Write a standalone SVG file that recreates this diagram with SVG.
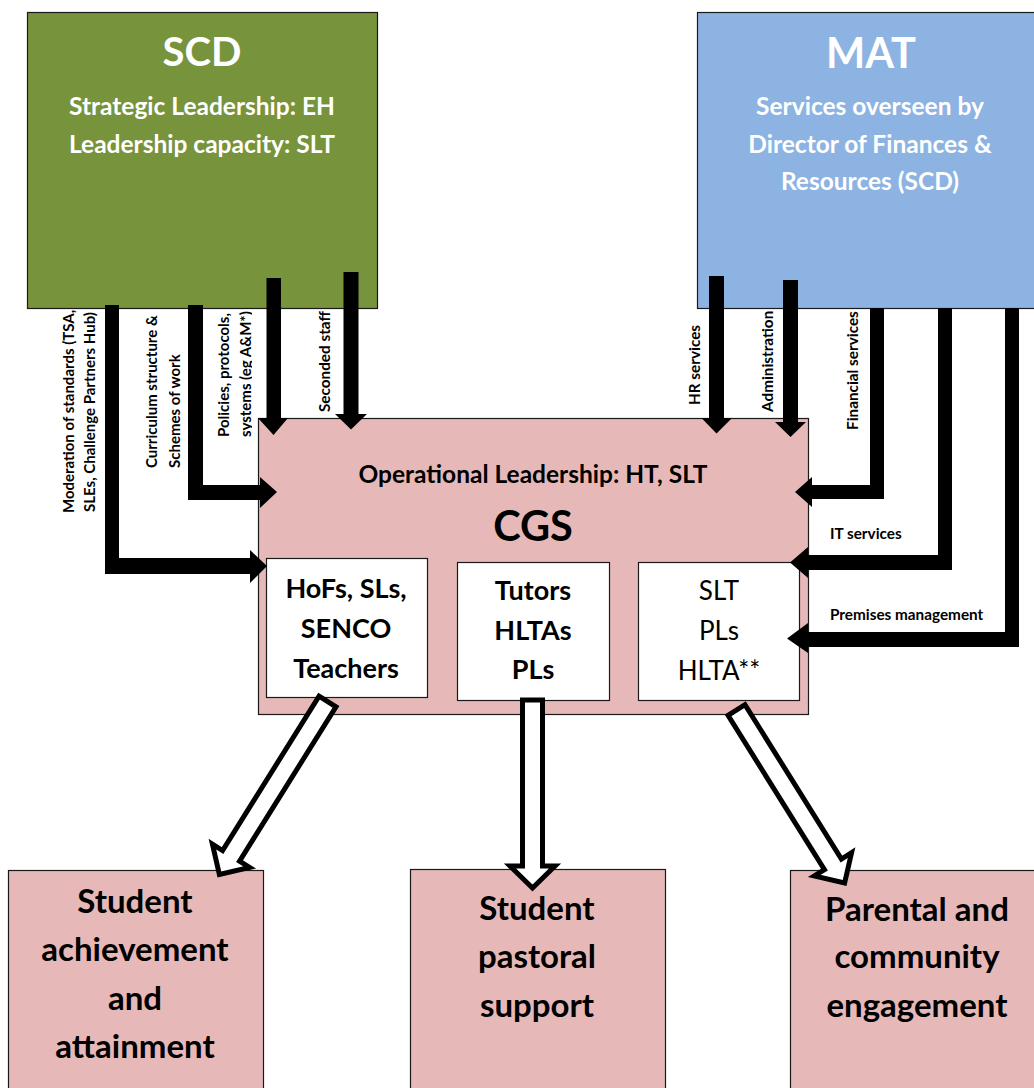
<svg xmlns="http://www.w3.org/2000/svg" width="1034" height="1088" viewBox="0 0 1034 1088">
  <style>
    .box { stroke: #1a1a1a; stroke-width: 1.2; }
    .scd { fill: #77933C; }
    .mat { fill: #8DB3E2; }
    .pink { fill: #E6B9B8; }
    .white { fill: #ffffff; }
    .t { font-family: Lato, "Open Sans", "Liberation Sans", sans-serif; font-weight: bold; fill: #000; }
    .w { fill: #ffffff; }
    .reg { font-weight: normal; }
    .mid { text-anchor: middle; }
    .lbl { font-size: 15.3px; }
    .lbl-l { font-size: 15px; }
    .flow { fill: #000; }
    .hollow { fill: #fff; stroke: #000; stroke-width: 5; stroke-linejoin: miter; stroke-miterlimit: 10; }
  </style>
  <defs>
    <clipPath id="policyClip">
      <rect x="200" y="309" width="52" height="200"/>
    </clipPath>
    <!-- hollow block arrow pointing down, tail at origin -->
    <path id="hollowArrow" class="hollow" d="M -10 0 L 10 0 L 10 182 L 22 182 L 0 204 L -22 182 L -10 182 Z"/>
  </defs>
  <rect width="1034" height="1088" fill="#fff"/>

  <!-- SCD -->
  <g id="scd">
    <rect class="box scd" x="27.5" y="12.5" width="350" height="296"/>
    <text class="t w mid" x="202" y="66" font-size="40">SCD</text>
    <text class="t w mid" x="202" y="115" font-size="24.5">Strategic Leadership: EH</text>
    <text class="t w mid" x="202" y="153" font-size="24.5">Leadership capacity: SLT</text>
  </g>

  <!-- MAT -->
  <g id="mat">
    <rect class="box mat" x="697.5" y="12.5" width="345" height="296"/>
    <text class="t w mid" x="871" y="68" font-size="41.5">MAT</text>
    <text class="t w mid" x="870" y="115" font-size="24.5">Services overseen by</text>
    <text class="t w mid" x="870" y="153" font-size="24.5">Director of Finances &amp;</text>
    <text class="t w mid" x="870" y="190" font-size="24.5">Resources (SCD)</text>
  </g>

  <!-- CGS with its three staff groups -->
  <g id="cgs">
    <rect class="box pink" x="258.5" y="418.5" width="550" height="296"/>
    <text class="t mid" x="533" y="483" font-size="24.5">Operational Leadership: HT, SLT</text>
    <text class="t mid" x="533" y="541" font-size="41.5">CGS</text>
  </g>
  <g id="staff-teaching">
    <rect class="box white" x="266.5" y="558.5" width="161" height="139"/>
    <text class="t mid" x="346" y="598" font-size="27">HoFs, SLs,</text>
    <text class="t mid" x="346" y="638" font-size="27">SENCO</text>
    <text class="t mid" x="346" y="678" font-size="27">Teachers</text>
  </g>
  <g id="staff-pastoral">
    <rect class="box white" x="457.5" y="562.5" width="152" height="138"/>
    <text class="t mid" x="533" y="600" font-size="27">Tutors</text>
    <text class="t mid" x="533" y="640" font-size="27">HLTAs</text>
    <text class="t mid" x="533" y="679" font-size="27">PLs</text>
  </g>
  <g id="staff-community">
    <rect class="box white" x="638.5" y="562.5" width="161" height="138"/>
    <text class="t reg mid" x="719" y="600" font-size="26">SLT</text>
    <text class="t reg mid" x="719" y="640" font-size="26">PLs</text>
    <text class="t reg mid" x="719" y="680" font-size="26">HLTA**</text>
  </g>

  <!-- Outcomes -->
  <g id="outcome-achievement">
    <rect class="box pink" x="8.5" y="870.5" width="255" height="230"/>
    <text class="t mid" x="135" y="913" font-size="33">Student</text>
    <text class="t mid" x="135" y="961" font-size="33">achievement</text>
    <text class="t mid" x="135" y="1010" font-size="33">and</text>
    <text class="t mid" x="135" y="1058" font-size="33">attainment</text>
  </g>
  <g id="outcome-pastoral">
    <rect class="box pink" x="410.5" y="869.5" width="255" height="230"/>
    <text class="t mid" x="537" y="920" font-size="33">Student</text>
    <text class="t mid" x="537" y="968" font-size="33">pastoral</text>
    <text class="t mid" x="537" y="1017" font-size="33">support</text>
  </g>
  <g id="outcome-community">
    <rect class="box pink" x="790.5" y="870.5" width="255" height="230"/>
    <text class="t mid" x="917" y="921" font-size="33">Parental and</text>
    <text class="t mid" x="917" y="968" font-size="33">community</text>
    <text class="t mid" x="917" y="1017" font-size="33">engagement</text>
  </g>

  <!-- Connectors -->
  <g id="connectors">
    <!-- from SCD -->
    <polygon class="flow" points="105,305 119,305 119,558 250,558 250,550 267,566 250,583 250,574 105,574"/>
    <polygon class="flow" points="188,305 203,305 203,485 260,485 260,477 277,492 260,508 260,500 188,500"/>
    <polygon class="flow" points="266.5,278 281,278 281,418 288,418 273.5,435 258,418 266.5,418"/>
    <polygon class="flow" points="343.5,272 358.5,272 358.5,414 367,414 351,429.5 335,414 343.5,414"/>
    <!-- from MAT -->
    <polygon class="flow" points="709,276 724,276 724,418 732,418 716.5,433.5 701.5,418 709,418"/>
    <polygon class="flow" points="783,280 798,280 798,422 806,422 790.5,437 775,422 783,422"/>
    <polygon class="flow" points="870,308 884,308 884,499 812,499 812,507 795,492 812,477 812,485 870,485"/>
    <polygon class="flow" points="938,308 952,308 952,570 808,570 808,578 790,562.5 808,547 808,555 938,555"/>
    <polygon class="flow" points="1005,308 1019,308 1019,647 808,647 808,653 787,638.5 808,623 808,632 1005,632"/>
    <!-- to outcomes -->
    <use href="#hollowArrow" transform="translate(327.5,701.5) rotate(32)"/>
    <path class="hollow" d="M 522.5 700 L 542.5 700 L 542.5 866 L 555 866 L 532.5 888 L 510 866 L 522.5 866 Z"/>
    <use href="#hollowArrow" transform="translate(736.5,710) rotate(-32)"/>
  </g>

  <!-- Connector labels -->
  <g id="labels" class="t lbl">
    <g class="lbl-l">
      <text transform="translate(73.5,513) rotate(-90)">Moderation of standards (TSA,</text>
      <text transform="translate(95,512) rotate(-90)">SLEs, Challenge Partners Hub)</text>
      <text transform="translate(157,468) rotate(-90)">Curriculum structure &amp;</text>
      <text transform="translate(179.5,468) rotate(-90)">Schemes of work</text>
      <g clip-path="url(#policyClip)">
        <text transform="translate(228.5,437) rotate(-90)">Policies, protocols,</text>
        <text transform="translate(251,437) rotate(-90)">systems (eg A&amp;M*)</text>
      </g>
    </g>
    <text transform="translate(329.5,412) rotate(-90)">Seconded staff</text>
    <text transform="translate(700,405) rotate(-90)">HR services</text>
    <text transform="translate(773,412) rotate(-90)">Administration</text>
    <text transform="translate(858,430) rotate(-90)">Financial services</text>
    <text x="830" y="538.5">IT services</text>
    <text x="830" y="620">Premises management</text>
  </g>
</svg>
